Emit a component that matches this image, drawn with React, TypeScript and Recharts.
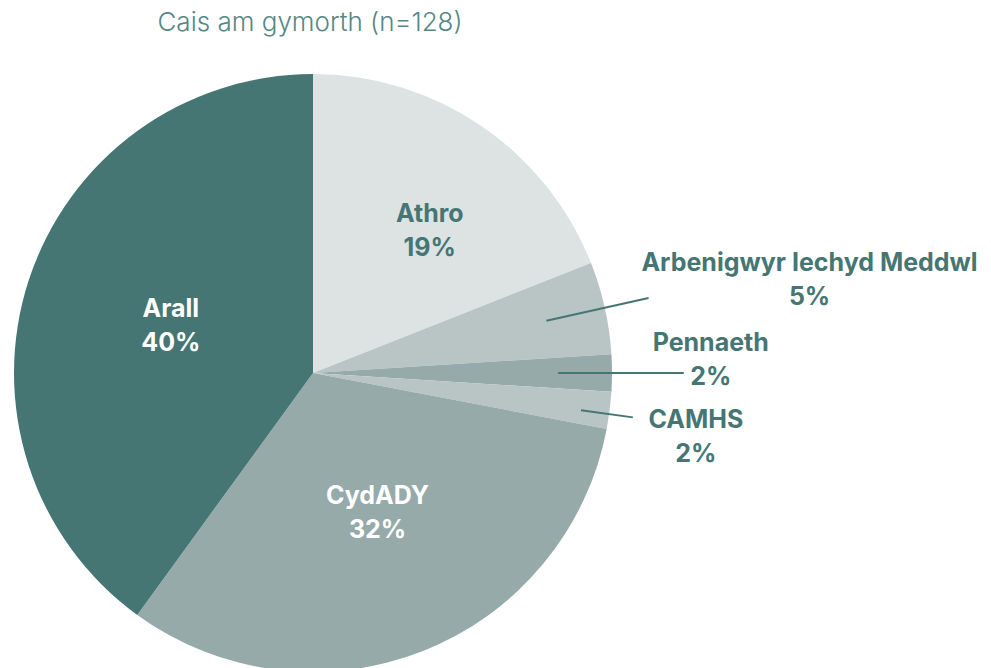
import { PieChart, Pie, Cell } from "recharts";

const categories = ["Athro", "Arbenigwyr Iechyd Meddwl", "Pennaeth", "CAMHS", "CydADY", "Arall"];
const shares = [19, 5, 2, 2, 32, 40];
const sliceColors = ["#dde3e2", "#b8c5c4", "#95aaa9", "#b8c5c4", "#95aaa9", "#457674"];

const data = categories.map((name, i) => ({ name, value: shares[i] }));

const TEAL = "#457674";
const RAD = Math.PI / 180;

// label placement: r = fraction of radius, rot = degrees clockwise nudge
const labelCfg: Record<string, any> = {
    "Athro": { r: 0.618, rot: 5, color: TEAL },
    "Arall": { r: 0.502, rot: 0.7, color: "#ffffff" },
    "CydADY": { r: 0.513, rot: -3.3, color: "#ffffff" },
    "Arbenigwyr Iechyd Meddwl": { line: [0.8, 1.15], rot: 0, dx: 161, dy: -19 },
    "Pennaeth": { line: [0.82, 1.24], rot: 0, dx: 27, dy: -14 },
    "CAMHS": { line: [0.905, 1.08], rot: 0.7, dx: 63, dy: 19 },
};

const polar = (cx: number, cy: number, r: number, angle: number) => ({
    x: cx + r * Math.cos(-angle * RAD),
    y: cy + r * Math.sin(-angle * RAD),
});

function TwoLines({ x, y, fill, name, value }: any) {
    const textStyle = { fontFamily: "Inter", fontWeight: 700, fontSize: 25 };
    return (
        <text x={x} y={y} textAnchor="middle" fill={fill} style={textStyle} dominantBaseline="central">
            <tspan x={x} y={y - 17} dominantBaseline="central">{name}</tspan>
            <tspan x={x} y={y + 17} dominantBaseline="central">{value}%</tspan>
        </text>
    );
}

function renderLabel(props: any) {
    const { cx, cy, midAngle, outerRadius, name, value } = props;
    const cfg = labelCfg[name];
    const angle = midAngle - cfg.rot;
    if (cfg.line) {
        const a = polar(cx, cy, outerRadius * cfg.line[0], angle);
        const b = polar(cx, cy, outerRadius * cfg.line[1], angle);
        return (
            <g>
                <line x1={a.x} y1={a.y} x2={b.x} y2={b.y} stroke={TEAL} strokeWidth={2} />
                <TwoLines x={b.x + cfg.dx} y={b.y + cfg.dy} fill={TEAL} name={name} value={value} />
            </g>
        );
    }
    const p = polar(cx, cy, outerRadius * cfg.r, angle);
    return <TwoLines x={p.x} y={p.y} fill={cfg.color} name={name} value={value} />;
}

export default function App() {
    return (
        <div style={{ position: "absolute", left: 0, top: 0, width: 991, height: 668, background: "#fff", overflow: "hidden" }}>
            <div
                style={{
                    position: "absolute",
                    left: 0,
                    width: 620,
                    top: 9,
                    lineHeight: "26px",
                    textAlign: "center",
                    fontFamily: "Inter",
                    fontWeight: 300,
                    fontSize: 26,
                    color: "#558784",
                }}
            >
                Cais am gymorth (n=128)
            </div>
            <PieChart width={991} height={668} margin={{ top: 0, right: 0, bottom: 0, left: 0 }}>
                <Pie
                    data={data}
                    dataKey="value"
                    nameKey="name"
                    cx={313}
                    cy={373}
                    outerRadius={299}
                    startAngle={90}
                    endAngle={-270}
                    stroke="none"
                    label={renderLabel}
                    labelLine={false}
                    isAnimationActive={false}
                >
                    {data.map((d, i) => (
                        <Cell key={d.name} fill={sliceColors[i]} />
                    ))}
                </Pie>
            </PieChart>
        </div>
    );
}
